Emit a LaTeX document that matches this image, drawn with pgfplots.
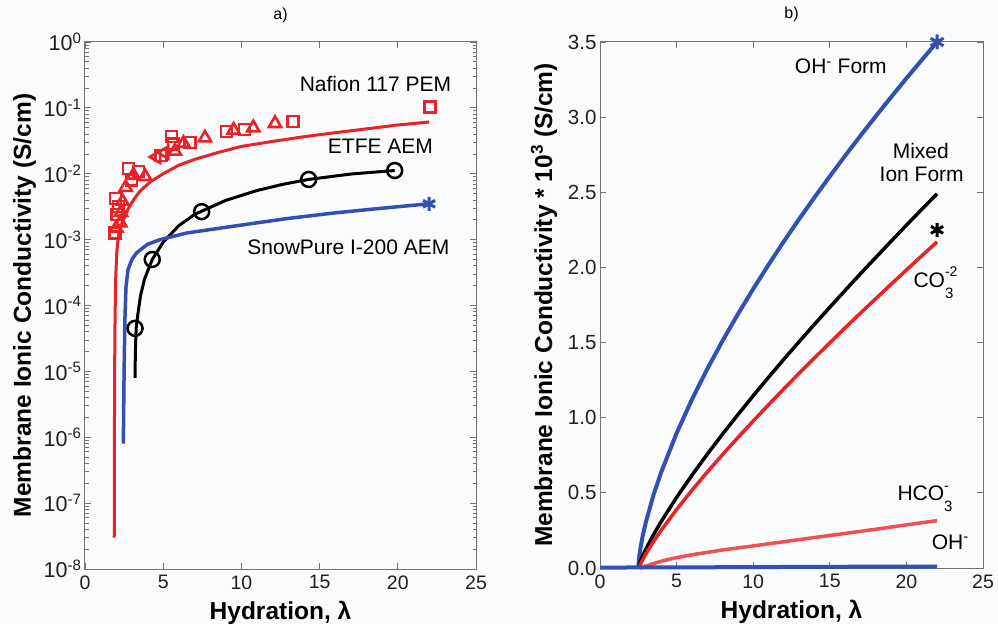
\documentclass[border=0pt]{standalone}
\usepackage{pgfplots}
\pgfplotsset{compat=1.18}
\usepackage{fontspec}
\setmainfont{Liberation Sans}
\definecolor{myred}{RGB}{234,34,38}
\definecolor{myblue}{RGB}{50,80,178}
\definecolor{lightred}{RGB}{240,80,80}
\definecolor{framegray}{RGB}{115,115,115}
\definecolor{bgc}{RGB}{250,251,253}
\newcommand{\supsub}[2]{\rlap{\raisebox{10.5pt}{\fontsize{14}{14}\selectfont #1}}\raisebox{-11pt}{\fontsize{15}{15}\selectfont #2}}
\begin{document}
\begin{tikzpicture}
\fill[bgc] (0,0) rectangle (998pt,624pt);
\path[use as bounding box] (0,0) rectangle (998pt,624pt);
\pgfplotsset{
 mystyle/.style={
  scale only axis,
  axis line style={framegray, line width=1pt},
  tick style={framegray, line width=0.8pt},
  major tick length=6pt, minor tick length=3.5pt,
  tick align=inside,
  ticklabel style={font=\fontsize{19.5}{20}\selectfont, text=black!88},
  xticklabel style={yshift=-3pt},
  label style={font=\bfseries\fontsize{24.5}{26}\selectfont},
  title style={font=\fontsize{16}{18}\selectfont, at={(axis description cs:0.5,1)}, anchor=base, yshift=17pt},
  xmin=0, xmax=25, xtick={0,5,10,15,20,25}, xticklabels={0,5,10,15,20,25},
  xlabel={Hydration, λ},
  clip=false,
 }
}
% ---------------- panel a ----------------
\begin{axis}[mystyle, at={(85pt,55pt)}, anchor=south west, width=391pt, height=527pt,
  ymode=log, ymin=1e-8, ymax=1,
  ytick={1e-8,1e-7,1e-6,1e-5,1e-4,1e-3,1e-2,1e-1,1},
  yticklabels={10\textsuperscript{-8},10\textsuperscript{-7},10\textsuperscript{-6},10\textsuperscript{-5},10\textsuperscript{-4},10\textsuperscript{-3},10\textsuperscript{-2},10\textsuperscript{-1},10\textsuperscript{0}},
  yticklabel style={font=\fontsize{21.5}{22}\selectfont},
  minor ytick={2e-8,3e-8,4e-8,5e-8,6e-8,7e-8,8e-8,9e-8,
   2e-7,3e-7,4e-7,5e-7,6e-7,7e-7,8e-7,9e-7,
   2e-6,3e-6,4e-6,5e-6,6e-6,7e-6,8e-6,9e-6,
   2e-5,3e-5,4e-5,5e-5,6e-5,7e-5,8e-5,9e-5,
   2e-4,3e-4,4e-4,5e-4,6e-4,7e-4,8e-4,9e-4,
   2e-3,3e-3,4e-3,5e-3,6e-3,7e-3,8e-3,9e-3,
   2e-2,3e-2,4e-2,5e-2,6e-2,7e-2,8e-2,9e-2,
   0.2,0.3,0.4,0.5,0.6,0.7,0.8,0.9},
  title={a)},
  xlabel style={at={(axis description cs:0.5,0)}, anchor=base, yshift=-50pt},
  ylabel={Membrane Ionic Conductivity (S/cm)},
  ylabel style={at={(axis description cs:0,0.5)}, anchor=base, yshift=54pt},
]
% Nafion model line
\addplot[myred, line width=3pt] coordinates {
(1.870,3e-8)(1.885,1.8e-6)(1.90,1.5e-5)(1.92,6e-5)(1.96,2.5e-4)(2.03,6.3e-4)(2.13,1.1e-3)(2.24,1.5e-3)(2.45,2.0e-3)(2.75,2.9e-3)(3.1,4.0e-3)(3.5,5.4e-3)(4.2,7.6e-3)(5,1.0e-2)(6,1.35e-2)(7,1.65e-2)(8.5,2.1e-2)(10,2.6e-2)(12,3.1e-2)(14,3.65e-2)(16,4.2e-2)(18,4.8e-2)(20,5.5e-2)(22,6.1e-2)};
% Nafion data: squares
\addplot[only marks, mark=square, mark size=5.5pt, myred, line width=2.6pt] coordinates {
(22.06,0.104)(13.3,0.062)(10.2,0.047)(9.06,0.044)(6.71,0.030)(5.54,0.037)(5.65,0.028)(4.85,0.019)
(3.41,0.0108)(2.98,0.0081)(2.77,0.012)(2.15,0.0032)(1.95,0.0042)(1.92,0.00125)(2.05,0.0024)};
% Nafion data: triangles
\addplot[only marks, mark=triangle, mark size=7pt, myred, line width=2.6pt] coordinates {
(12.15,0.058)(10.76,0.050)(9.5,0.046)(7.67,0.035)(6.3,0.029)(5.75,0.022)(3.84,0.0091)(3.1,0.0095)
(2.6,0.0062)(2.4,0.0038)(2.3,0.0026)(2.25,0.0018)(2.0,0.0015)};
% Nafion data: left triangles
\addplot[only marks, mark=triangle, mark size=7pt, mark options={rotate=90}, myred, line width=2.6pt] coordinates {
(4.58,0.018)(5.1,0.021)};
% ETFE line and data
\addplot[black, line width=3pt] coordinates {
(3.20,8e-6)(3.22,2e-5)(3.27,4.5e-5)(3.4,8e-5)(3.55,1.4e-4)(3.8,2.5e-4)(4.3,5e-4)(5,9.15e-4)(6,1.63e-3)(7,2.41e-3)(7.46,2.7e-3)(9,3.94e-3)(11,5.57e-3)(12.7,6.95e-3)(14.3,8.2e-3)(17,9.9e-3)(19.8,1.12e-2)};
\addplot[only marks, mark=o, mark size=7.5pt, black, line width=2.5pt] coordinates {
(3.2,4.5e-5)(4.3,5e-4)(7.46,2.66e-3)(14.3,8.2e-3)(19.8,1.12e-2)};
% SnowPure
\addplot[myblue, line width=3.5pt] coordinates {
(2.45,8e-7)(2.5,1e-5)(2.55,6e-5)(2.62,1.9e-4)(2.75,3.5e-4)(3.0,5e-4)(3.3,6.3e-4)(4,8.5e-4)(4.8,1.0e-3)(6.5,1.26e-3)(9.5,1.6e-3)(13,2.1e-3)(16,2.55e-3)(19,3.0e-3)(22,3.5e-3)};
\addplot[only marks, mark=asterisk, mark size=7pt, myblue, line width=3pt] coordinates {(22,3.5e-3)};
\node[font=\fontsize{21}{24}\selectfont, anchor=base] at (axis cs:18.57,0.176) {Nafion 117 PEM};
\node[font=\fontsize{21}{24}\selectfont, anchor=base] at (axis cs:18.89,0.020) {ETFE AEM};
\node[font=\fontsize{21}{24}\selectfont, anchor=base] at (axis cs:16.84,5.86e-4) {SnowPure I-200 AEM};
\end{axis}
% ---------------- panel b ----------------
\begin{axis}[mystyle, at={(600pt,56pt)}, anchor=south west, width=383pt, height=526pt,
  ymin=0, ymax=3.5,
  ytick={0,0.5,1,1.5,2,2.5,3,3.5},
  yticklabels={0.0,0.5,1.0,1.5,2.0,2.5,3.0,3.5},
  yticklabel style={font=\fontsize{20.5}{21}\selectfont},
  title={b)},
  xlabel style={at={(axis description cs:0.5,0)}, anchor=base, yshift=-50pt},
  ylabel={Membrane Ionic Conductivity * 10\textsuperscript{3} (S/cm)},
  ylabel style={at={(axis description cs:0,0.5)}, anchor=base, yshift=48pt},
]
% OH- form
\addplot[myblue, line width=4pt] coordinates {
(2.5,0)(2.55,0.067)(2.65,0.139)(2.8,0.220)(3.0,0.308)(3.5,0.489)(4,0.639)(5,0.897)(6,1.121)(7,1.324)(8,1.512)(9,1.689)(10,1.857)(11,2.018)(12,2.173)(13,2.322)(14,2.466)(15,2.606)(16,2.743)(17,2.876)(18,3.006)(19,3.133)(20,3.258)(21,3.380)(22,3.5)};
\addplot[only marks, mark=asterisk, mark size=7.5pt, myblue, line width=3pt] coordinates {(22,3.5)};
% Mixed ion form
\addplot[black, line width=3.5pt] coordinates {
(2.5,0)(2.55,0.020)(2.65,0.048)(2.8,0.084)(3.0,0.127)(3.5,0.223)(4,0.310)(5,0.470)(6,0.617)(7,0.757)(8,0.891)(9,1.020)(10,1.146)(11,1.269)(12,1.389)(13,1.506)(14,1.622)(15,1.735)(16,1.847)(17,1.958)(18,2.066)(19,2.174)(20,2.281)(21,2.386)(22,2.49)};
\addplot[only marks, mark=asterisk, mark size=7pt, black, line width=3pt] coordinates {(22,2.25)};
% CO3^2-
\addplot[myred, line width=3.5pt] coordinates {
(2.55,0)(2.6,0.015)(2.7,0.038)(2.9,0.077)(3.2,0.129)(3.6,0.192)(4,0.252)(5,0.389)(6,0.517)(7,0.638)(8,0.755)(9,0.868)(10,0.978)(11,1.086)(12,1.192)(13,1.296)(14,1.398)(15,1.498)(16,1.598)(17,1.696)(18,1.792)(19,1.888)(20,1.983)(21,2.077)(22,2.17)};
% HCO3-
\addplot[lightred, line width=3.5pt] coordinates {
(2.6,0)(3,0.012)(3.5,0.030)(4,0.045)(4.8,0.065)(6,0.088)(8,0.120)(10,0.147)(12,0.175)(14,0.203)(16,0.230)(18,0.258)(20,0.287)(22,0.315)};
% OH- in mixed
\addplot[myblue, line width=4pt] coordinates {
(0,0.003)(5,0.004)(10,0.006)(15,0.008)(22,0.010)};
\node[font=\fontsize{21}{24}\selectfont, anchor=base] at (axis cs:15.72,3.29) {OH\textsuperscript{-} Form};
\node[font=\fontsize{21}{24}\selectfont, anchor=base] at (axis cs:20.94,2.726) {Mixed};
\node[font=\fontsize{21}{24}\selectfont, anchor=base] at (axis cs:21.0,2.57) {Ion Form};
\node[font=\fontsize{21}{24}\selectfont, anchor=base west, inner sep=0pt] at (axis cs:20.45,1.868) {CO\supsub{-2}{3}};
\node[font=\fontsize{21}{24}\selectfont, anchor=base west, inner sep=0pt] at (axis cs:19.41,0.448) {HCO\supsub{-}{3}};
\node[font=\fontsize{21}{24}\selectfont, anchor=base west, inner sep=0pt] at (axis cs:21.65,0.126) {OH\textsuperscript{-}};
\end{axis}
\end{tikzpicture}
\end{document}
